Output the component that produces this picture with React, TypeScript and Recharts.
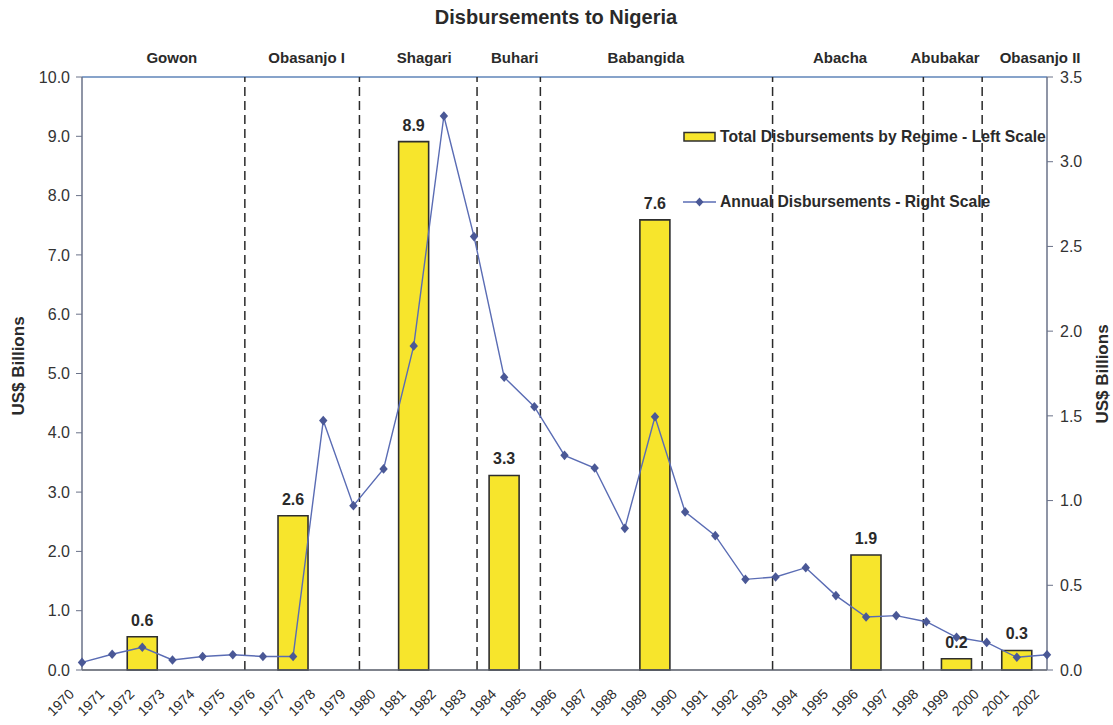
import React from 'react';
import {
  ComposedChart,
  Bar,
  Line,
  XAxis,
  YAxis,
  ReferenceLine,
  LabelList,
  Legend,
} from 'recharts';

// ---------- data ----------
const YEARS = [
  1970, 1971, 1972, 1973, 1974, 1975, 1976, 1977, 1978, 1979, 1980, 1981,
  1982, 1983, 1984, 1985, 1986, 1987, 1988, 1989, 1990, 1991, 1992, 1993,
  1994, 1995, 1996, 1997, 1998, 1999, 2000, 2001, 2002,
];

// Annual disbursements (US$ billions, right scale)
const ANNUAL = [
  0.045, 0.093, 0.134, 0.059, 0.08, 0.09, 0.08, 0.08, 1.472, 0.97, 1.187,
  1.913, 3.27, 2.558, 1.728, 1.554, 1.267, 1.192, 0.836, 1.495, 0.933, 0.793,
  0.535, 0.549, 0.604, 0.439, 0.313, 0.321, 0.285, 0.193, 0.163, 0.075, 0.09,
];

// Total disbursements by regime (US$ billions, left scale)
const BAR_YEARS = [1972, 1977, 1981, 1984, 1989, 1996, 1999, 2001];
const BAR_TOTALS = [0.56, 2.6, 8.91, 3.28, 7.59, 1.94, 0.19, 0.33];

const REGIMES = [
  'Gowon',
  'Obasanjo I',
  'Shagari',
  'Buhari',
  'Babangida',
  'Abacha',
  'Abubakar',
  'Obasanjo II',
];
const REGIME_LABEL_POS = [1972.98, 1977.45, 1981.35, 1984.35, 1988.7, 1995.14, 1998.62, 2001.77];
const REGIME_BOUNDARIES = [1975.4, 1979.2, 1983.1, 1985.2, 1992.9, 1997.9, 1999.85];

const LEFT_TICKS = [0, 1, 2, 3, 4, 5, 6, 7, 8, 9, 10];
const RIGHT_TICKS = [0, 0.5, 1, 1.5, 2, 2.5, 3, 3.5];

const data = YEARS.map((year, i) => {
  const bi = BAR_YEARS.indexOf(year);
  return {
    year,
    annual: ANNUAL[i],
    total: bi >= 0 ? BAR_TOTALS[bi] : null,
  };
});

// ---------- styles ----------
const FONT = '"Liberation Sans", Arial, Helvetica, sans-serif';
const TEXT = '#2a2a2a';
const BAR_FILL = '#f7e52c';
const BAR_STROKE = '#2e2e2e';
const LINE_COLOR = '#5a6cb4';
const DOT_COLOR = '#4a5896';

const XTick = (props: any) => {
  const { x, y, payload } = props;
  const ax = x - 7;
  const ay = y + 25;
  return (
    <text
      x={ax}
      y={ay}
      transform={`rotate(-45 ${ax} ${ay})`}
      textAnchor="end"
      fontSize={14}
      fontFamily={FONT}
      fill={TEXT}
    >
      {payload.value}
    </text>
  );
};

const RegimeTick = (props: any) => {
  const { x, y, payload } = props;
  const idx = REGIME_LABEL_POS.indexOf(payload.value);
  return (
    <text
      x={x}
      y={y - 14}
      textAnchor="middle"
      fontSize={15}
      fontWeight="bold"
      fontFamily={FONT}
      fill={TEXT}
    >
      {idx >= 0 ? REGIMES[idx] : ''}
    </text>
  );
};

const Diamond = (props: any) => {
  const { cx, cy, index } = props;
  if (cx == null || cy == null) return <g key={`d${index}`} />;
  return (
    <path
      key={`d${index}`}
      d={`M${cx},${cy - 4.8}L${cx + 4.2},${cy}L${cx},${cy + 4.8}L${cx - 4.2},${cy}Z`}
      fill={DOT_COLOR}
      stroke="none"
    />
  );
};

const BarLabel = (props: any) => {
  const { x, y, width, value } = props;
  if (value == null) return null;
  return (
    <text
      x={Number(x) + Number(width) / 2}
      y={Number(y) - 11}
      textAnchor="middle"
      fontSize={16}
      fontWeight="bold"
      fontFamily={FONT}
      fill={TEXT}
    >
      {Number(value).toFixed(1)}
    </text>
  );
};

const LegendContent = () => (
  <div
    style={{
      fontFamily: FONT,
      fontWeight: 'bold',
      fontSize: 15.7,
      color: TEXT,
      whiteSpace: 'nowrap',
      lineHeight: '20px',
    }}
  >
    <div style={{ display: 'flex', alignItems: 'center', height: 20 }}>
      <svg width={34} height={12} style={{ display: 'block' }}>
        <rect x={1} y={1.5} width={31} height={8.5} fill={BAR_FILL} stroke={BAR_STROKE} strokeWidth={1.5} />
      </svg>
      <span style={{ marginLeft: 3 }}>Total Disbursements by Regime - Left Scale</span>
    </div>
    <div style={{ display: 'flex', alignItems: 'center', height: 20, marginTop: 45 }}>
      <svg width={34} height={12} style={{ display: 'block' }}>
        <line x1={0} y1={6} x2={33} y2={6} stroke={LINE_COLOR} strokeWidth={1.5} />
        <path d="M16.5,1.5L20.5,6L16.5,10.5L12.5,6Z" fill={DOT_COLOR} />
      </svg>
      <span style={{ marginLeft: 3 }}>Annual Disbursements - Right Scale</span>
    </div>
  </div>
);

export default function App() {
  return (
    <div style={{ position: 'absolute', left: 0, top: 0, width: 1113, height: 725, background: '#ffffff' }}>
      <ComposedChart
        width={1113}
        height={725}
        data={data}
        margin={{ top: 47, right: 0, bottom: 0, left: 0 }}
      >
        <XAxis
          xAxisId="bottom"
          dataKey="year"
          type="number"
          domain={[1970, 2002]}
          ticks={YEARS}
          interval={0}
          height={55}
          axisLine={{ stroke: '#555a66', strokeWidth: 1.5 }}
          tickLine={false}
          tickSize={0}
          tickMargin={0}
          tick={<XTick />}
        />
        <XAxis
          xAxisId="top"
          orientation="top"
          dataKey="year"
          type="number"
          domain={[1970, 2002]}
          ticks={REGIME_LABEL_POS}
          interval={0}
          height={30}
          axisLine={false}
          tickLine={false}
          tickSize={0}
          tickMargin={0}
          tick={<RegimeTick />}
        />
        <YAxis
          yAxisId="left"
          domain={[0, 10]}
          ticks={LEFT_TICKS}
          interval={0}
          width={82}
          axisLine={{ stroke: '#6a7289', strokeWidth: 1.5 }}
          tickLine={{ stroke: '#6a7289' }}
          tickSize={6}
          tickMargin={6}
          tickFormatter={(v: number) => v.toFixed(1)}
          tick={{ fontSize: 16, fontFamily: FONT, fill: '#333' }}
        />
        <YAxis
          yAxisId="right"
          orientation="right"
          domain={[0, 3.5]}
          ticks={RIGHT_TICKS}
          interval={0}
          width={66}
          axisLine={{ stroke: '#6a7289', strokeWidth: 1.5 }}
          tickLine={{ stroke: '#6a7289' }}
          tickSize={6}
          tickMargin={7}
          tickFormatter={(v: number) => v.toFixed(1)}
          tick={{ fontSize: 16, fontFamily: FONT, fill: '#333' }}
        />
        <ReferenceLine xAxisId="bottom" yAxisId="left" y={10} stroke="#5f84b8" strokeWidth={1.5} />
        {REGIME_BOUNDARIES.map((b) => (
          <ReferenceLine
            key={b}
            xAxisId="bottom"
            yAxisId="left"
            x={b}
            stroke="#2a2a2a"
            strokeWidth={1.5}
            strokeDasharray="9 5"
          />
        ))}
        <Bar
          xAxisId="bottom"
          yAxisId="left"
          dataKey="total"
          barSize={30}
          fill={BAR_FILL}
          stroke={BAR_STROKE}
          strokeWidth={1.6}
          isAnimationActive={false}
        >
          <LabelList dataKey="total" content={<BarLabel />} />
        </Bar>
        <Line
          xAxisId="bottom"
          yAxisId="right"
          dataKey="annual"
          type="linear"
          stroke={LINE_COLOR}
          strokeWidth={1.4}
          dot={Diamond}
          activeDot={false}
          isAnimationActive={false}
        />
        <Legend
          layout="vertical"
          align="center"
          verticalAlign="middle"
          content={<LegendContent />}
          wrapperStyle={{ left: 683, top: 127, width: 430, height: 100 }}
        />
        <text
          x={556}
          y={24}
          textAnchor="middle"
          fontSize={20}
          fontWeight="bold"
          fontFamily={FONT}
          fill={TEXT}
        >
          Disbursements to Nigeria
        </text>
        <text
          x={24}
          y={366}
          transform="rotate(-90 24 366)"
          textAnchor="middle"
          fontSize={17}
          fontWeight="bold"
          fontFamily={FONT}
          fill={TEXT}
        >
          US$ Billions
        </text>
        <text
          x={1108}
          y={374}
          transform="rotate(-90 1108 374)"
          textAnchor="middle"
          fontSize={17}
          fontWeight="bold"
          fontFamily={FONT}
          fill={TEXT}
        >
          US$ Billions
        </text>
      </ComposedChart>
    </div>
  );
}
